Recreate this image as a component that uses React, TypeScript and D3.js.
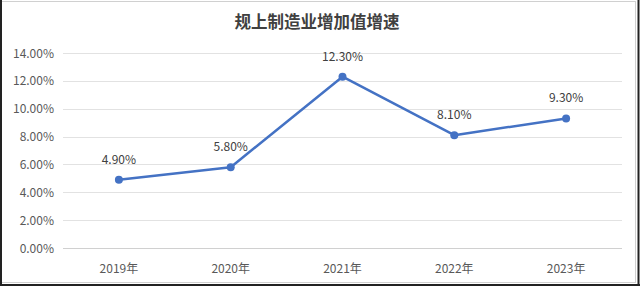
import React from "react";
import * as d3 from "d3";

const categories = ["2019年", "2020年", "2021年", "2022年", "2023年"];
const values = [4.9, 5.8, 12.3, 8.1, 9.3];
const yTicks = [0, 2, 4, 6, 8, 10, 12, 14];
const title = "规上制造业增加值增速";

const W = 640;
const H = 287;
const font = "'Microsoft YaHei', 'Noto Sans CJK SC', 'Noto Sans', sans-serif";

export default function App() {
  const x = d3.scaleBand<string>().domain(categories).range([63, 622]);
  const y = d3.scaleLinear().domain([0, 14]).range([248, 53]);
  const cx = (c: string) => (x(c) as number) + x.bandwidth() / 2;
  const line = d3
    .line<number>()
    .x((_, i) => cx(categories[i]))
    .y((d) => y(d));

  return (
    <svg
      width={W}
      height={H}
      style={{ position: "absolute", left: 0, top: 0, background: "#fff" }}
    >
      <rect x={0} y={0} width={W} height={H} fill="#fff" />
      <rect x={1.5} y={1.5} width={634} height={281} fill="none" stroke="#d0d0d0" strokeWidth={1} />
      <line x1={1} y1={0} x2={1} y2={286} stroke="#222" strokeWidth={2} />
      <line x1={638.5} y1={0} x2={638.5} y2={286} stroke="#222" strokeWidth={2} />
      <line x1={0} y1={285} x2={640} y2={285} stroke="#222" strokeWidth={2} />

      <text
        x={317}
        y={28}
        textAnchor="middle"
        fontFamily={font}
        fontSize={16.5}
        fontWeight="bold"
        fill="#404040"
      >
        {title}
      </text>

      {yTicks.map((t) => (
        <g key={t}>
          <line
            x1={63}
            x2={622}
            y1={Math.round(y(t)) + 0.5}
            y2={Math.round(y(t)) + 0.5}
            stroke={t === 0 ? "#d0d0d0" : "#e2e2e2"}
            strokeWidth={1}
          />
          <text
            x={54}
            y={y(t) + 4.5}
            textAnchor="end"
            fontFamily={font}
            fontSize={12}
            fill="#595959"
          >
            {t.toFixed(2) + "%"}
          </text>
        </g>
      ))}

      {categories.map((c) => (
        <text
          key={c}
          x={cx(c)}
          y={273}
          textAnchor="middle"
          fontFamily={font}
          fontSize={12}
          fill="#595959"
        >
          {c}
        </text>
      ))}

      <path
        d={line(values) as string}
        fill="none"
        stroke="#4472C4"
        strokeWidth={2.5}
        strokeLinejoin="round"
      />
      {values.map((v, i) => (
        <g key={i}>
          <circle cx={cx(categories[i])} cy={y(v)} r={4} fill="#4472C4" />
          <text
            x={cx(categories[i])}
            y={y(v) - 16}
            textAnchor="middle"
            fontFamily={font}
            fontSize={12}
            fill="#404040"
          >
            {v.toFixed(2) + "%"}
          </text>
        </g>
      ))}
    </svg>
  );
}
